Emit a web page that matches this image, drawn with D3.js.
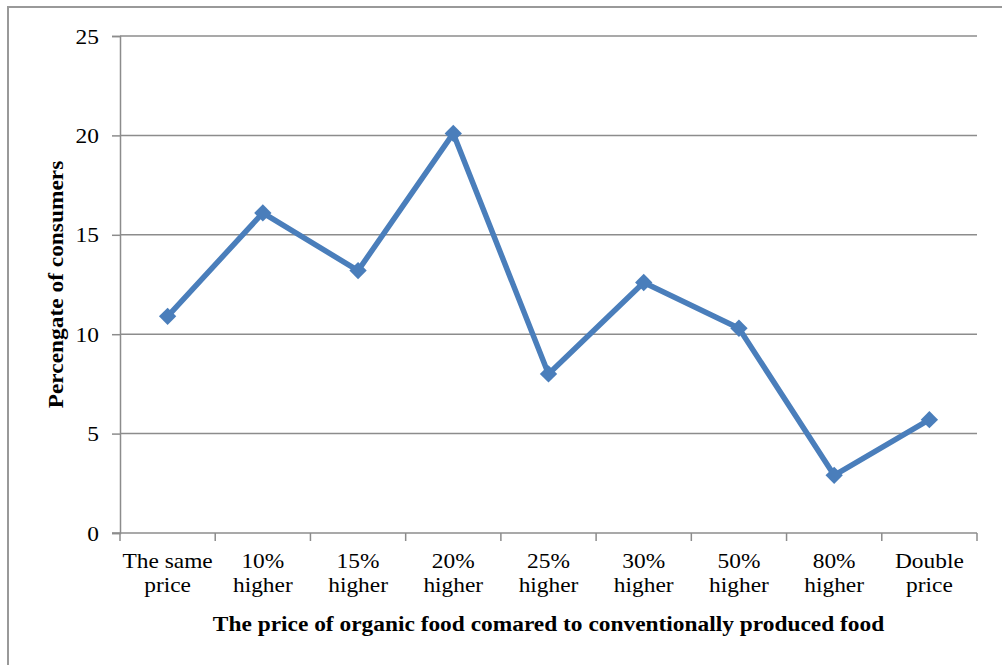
<!DOCTYPE html>
<html lang="en-US">
<head>
  <script src="https://d3js.org/d3.v7.min.js"></script>
  <style>
    body { margin: 0; background: #fff; }
    text { font-family: "Liberation Serif", "Times New Roman", serif; fill: #000; }
  </style>
</head>
<body>

<svg width="1002" height="665"></svg>

<script>
var categories = [["The same", "price"], ["10%", "higher"], ["15%", "higher"], ["20%", "higher"],
  ["25%", "higher"], ["30%", "higher"], ["50%", "higher"], ["80%", "higher"], ["Double", "price"]];
var values = [10.9, 16.1, 13.2, 20.1, 8.0, 12.6, 10.3, 2.9, 5.7];
var yTicks = [0, 5, 10, 15, 20, 25];

var svg = d3.select("svg");
var pLeft = 120, pRight = 977, pTop = 36, pBottom = 533;
var sx = 1.17; // the source text is stretched sideways

// outer frame (right and bottom edges fall outside the picture)
svg.append("rect")
  .attr("x", 8).attr("y", 7)
  .attr("width", 1010).attr("height", 680)
  .attr("fill", "none").attr("stroke", "#999").attr("stroke-width", 2);

var x = d3.scaleBand().domain(d3.range(categories.length)).range([pLeft, pRight]);
var y = d3.scaleLinear().domain([0, 25]).range([pBottom, pTop]);

// gridlines
svg.append("g").selectAll("line")
  .data(yTicks.filter(d => d > 0))
  .enter().append("line")
  .attr("x1", pLeft).attr("x2", pRight)
  .attr("y1", d => y(d)).attr("y2", d => y(d))
  .attr("stroke", "#8c8c8c").attr("stroke-width", 1.5);

// y axis
var yAxis = svg.append("g")
  .attr("transform", "translate(" + pLeft + ",0)")
  .call(d3.axisLeft(y).tickValues(yTicks).tickSize(8).tickPadding(12));
yAxis.selectAll("path, line").attr("stroke", "#8c8c8c").attr("stroke-width", 1.5);
yAxis.selectAll("text")
  .style("font-size", "20px").style("font-family", "Liberation Serif")
  .attr("x", null).attr("dy", null)
  .attr("transform", "translate(-21,7) scale(" + sx + ",1)");

// x axis
var xAxis = svg.append("g")
  .attr("transform", "translate(0," + pBottom + ")");
xAxis.append("line")
  .attr("x1", pLeft - 8).attr("x2", pRight)
  .attr("y1", 0).attr("y2", 0)
  .attr("stroke", "#8c8c8c").attr("stroke-width", 1.5);
xAxis.selectAll(".tk")
  .data(d3.range(categories.length + 1))
  .enter().append("line")
  .attr("x1", d => pLeft + d * x.step()).attr("x2", d => pLeft + d * x.step())
  .attr("y1", 0).attr("y2", 8)
  .attr("stroke", "#8c8c8c").attr("stroke-width", 1.5);
var lbl = xAxis.selectAll(".lbl")
  .data(categories)
  .enter().append("text")
  .attr("text-anchor", "middle")
  .style("font-size", "20px")
  .attr("transform", (d, i) => "translate(" + (x(i) + x.bandwidth() / 2) + ",35) scale(" + sx + ",1)");
lbl.append("tspan").attr("x", 0).text(d => d[0]);
lbl.append("tspan")
  .attr("x", 0)
  .attr("dy", 24)
  .text(d => d[1]);

// axis titles
svg.append("text")
  .attr("transform", "translate(" + (pLeft + pRight) / 2 + ",631) scale(" + sx + ",1)")
  .attr("text-anchor", "middle")
  .style("font-size", "20px").style("font-weight", "bold")
  .text("The price of organic food comared to conventionally produced food");

svg.append("text")
  .attr("transform", "translate(63," + (pTop + pBottom) / 2 + ") rotate(-90) scale(" + sx + ",1)")
  .attr("text-anchor", "middle")
  .style("font-size", "20px").style("font-weight", "bold")
  .text("Percengate of consumers");

// series
var line = d3.line()
  .x((d, i) => x(i) + x.bandwidth() / 2)
  .y(d => y(d));

svg.append("path")
  .datum(values)
  .attr("d", line)
  .attr("fill", "none")
  .attr("stroke", "#4a7ebb")
  .attr("stroke-width", 5.5)
  .attr("stroke-linejoin", "round");

svg.append("g").selectAll("path")
  .data(values)
  .enter().append("path")
  .attr("d", d3.symbol(d3.symbolSquare, 150))
  .attr("transform", (d, i) => "translate(" + (x(i) + x.bandwidth() / 2) + "," + y(d) + ") rotate(45)")
  .attr("fill", "#4a7ebb");
</script>
</body>
</html>
